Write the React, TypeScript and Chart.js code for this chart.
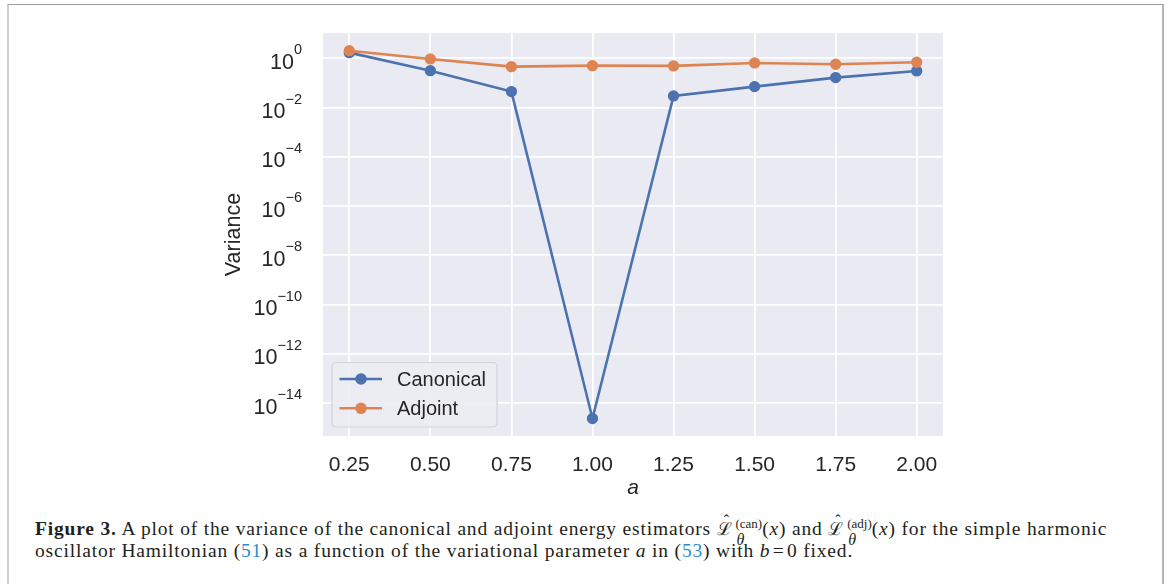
import React, { useEffect, useRef } from 'react';
import { Chart, registerables } from 'chart.js';

Chart.register(...registerables);

// ---- data ----
const aValues = [0.25, 0.5, 0.75, 1.0, 1.25, 1.5, 1.75, 2.0];
const canonicalVariance = [1.69, 0.314, 0.0443, 2.4e-15, 0.0296, 0.0706, 0.164, 0.306];
const adjointVariance = [2.03, 0.94, 0.457, 0.5, 0.49, 0.645, 0.571, 0.689];
const seriesLabels = ['Canonical', 'Adjoint'];
const seriesColors = ['#4c72b0', '#dd8452'];
const xTickValues = [0.25, 0.5, 0.75, 1.0, 1.25, 1.5, 1.75, 2.0];
const yTickExponents = [0, -2, -4, -6, -8, -10, -12, -14];
const xAxisLabel = 'a';
const yAxisLabel = 'Variance';

const TEXT = '#262626';
const SANS = '"Liberation Sans", Arial, sans-serif';

const bgPlugin = {
  id: 'axesBg',
  beforeDraw(chart: any) {
    const { ctx, chartArea } = chart;
    ctx.save();
    ctx.fillStyle = '#eaeaf2';
    ctx.fillRect(chartArea.left, chartArea.top, chartArea.right - chartArea.left, chartArea.bottom - chartArea.top);
    ctx.restore();
  },
};

const yLabelPlugin = {
  id: 'yPowerLabels',
  afterDraw(chart: any) {
    const { ctx, chartArea } = chart;
    const ys = chart.scales.y;
    ctx.save();
    ctx.fillStyle = TEXT;
    const right = chartArea.left - 21;
    for (const e of yTickExponents) {
      const py = ys.getPixelForValue(Math.pow(10, e));
      const expText = e === 0 ? '0' : '\u2212' + Math.abs(e);
      ctx.font = '14.5px ' + SANS;
      const we = ctx.measureText(expText).width;
      ctx.textAlign = 'left';
      ctx.textBaseline = 'alphabetic';
      ctx.fillText(expText, right - we, py - 4);
      ctx.font = '21.5px ' + SANS;
      ctx.textAlign = 'right';
      ctx.fillText('10', right - we, py + 10.5);
    }
    ctx.restore();
  },
};

const legendPlugin = {
  id: 'mplLegend',
  afterDraw(chart: any) {
    const { ctx, chartArea } = chart;
    const x0 = chartArea.left + 9;
    const w = 165;
    const h = 64.5;
    const y0 = chartArea.bottom - 9 - h;
    const r = 4;
    ctx.save();
    ctx.beginPath();
    ctx.moveTo(x0 + r, y0);
    ctx.lineTo(x0 + w - r, y0);
    ctx.arcTo(x0 + w, y0, x0 + w, y0 + r, r);
    ctx.lineTo(x0 + w, y0 + h - r);
    ctx.arcTo(x0 + w, y0 + h, x0 + w - r, y0 + h, r);
    ctx.lineTo(x0 + r, y0 + h);
    ctx.arcTo(x0, y0 + h, x0, y0 + h - r, r);
    ctx.lineTo(x0, y0 + r);
    ctx.arcTo(x0, y0, x0 + r, y0, r);
    ctx.closePath();
    ctx.fillStyle = 'rgba(236,236,243,0.9)';
    ctx.fill();
    ctx.strokeStyle = '#d2d2d6';
    ctx.lineWidth = 1.2;
    ctx.stroke();
    chart.data.datasets.forEach((ds: any, i: number) => {
      const cy = y0 + 16.5 + i * 29.3;
      ctx.strokeStyle = ds.borderColor;
      ctx.lineWidth = 2.6;
      ctx.beginPath();
      ctx.moveTo(x0 + 7.5, cy);
      ctx.lineTo(x0 + 50, cy);
      ctx.stroke();
      ctx.fillStyle = ds.borderColor;
      ctx.beginPath();
      ctx.arc(x0 + 29, cy, 5.8, 0, Math.PI * 2);
      ctx.fill();
      ctx.fillStyle = TEXT;
      ctx.font = '20px ' + SANS;
      ctx.textAlign = 'left';
      ctx.textBaseline = 'middle';
      ctx.fillText(ds.label, x0 + 65, cy + 1);
    });
    ctx.restore();
  },
};

function Lhat({ sup }: { sup: string }) {
  return (
    <>
      <span style={{ position: 'relative', display: 'inline-block' }}>
        <span style={{ fontFamily: '"DejaVu Serif", serif', fontSize: 18 }}>{'\u2112'}</span>
        <span style={{ position: 'absolute', left: 7, top: -8, fontSize: 16 }}>{'\u02C6'}</span>
      </span>
      <span style={{ position: 'relative', fontSize: 13, verticalAlign: 7, marginLeft: 3, letterSpacing: 0 }}>
        {sup}
        <span style={{ position: 'absolute', left: 1, top: 13, fontStyle: 'italic', fontSize: 16 }}>{'\u03B8'}</span>
      </span>
    </>
  );
}

export default function App() {
  const canvasRef = useRef<HTMLCanvasElement | null>(null);

  useEffect(() => {
    const canvas = canvasRef.current;
    if (!canvas) return;
    const series = [canonicalVariance, adjointVariance];
    const chart = new Chart(canvas, {
      type: 'line',
      data: {
        datasets: series.map((vals, i) => ({
          label: seriesLabels[i],
          data: aValues.map((a, j) => ({ x: a, y: vals[j] })),
          borderColor: seriesColors[i],
          backgroundColor: seriesColors[i],
          pointBackgroundColor: seriesColors[i],
          pointBorderColor: seriesColors[i],
          borderWidth: 2.6,
          pointRadius: 5,
          pointBorderWidth: 1.3,
          tension: 0,
          fill: false,
          clip: false as any,
          order: i === 0 ? 1 : 0,
        })),
      },
      options: {
        responsive: false,
        animation: false,
        devicePixelRatio: 1,
        events: [],
        layout: { padding: { left: 221, right: 224, top: 33, bottom: 4 } },
        plugins: {
          legend: { display: false },
          tooltip: { enabled: false },
          title: { display: false },
        },
        scales: {
          x: {
            type: 'linear',
            min: 0.1689,
            max: 2.0811,
            afterBuildTicks: (s: any) => {
              s.ticks = xTickValues.map((v) => ({ value: v }));
            },
            afterFit: (s: any) => {
              s.height = 65;
            },
            grid: { color: '#ffffff', lineWidth: 1.8, drawTicks: false },
            border: { display: false },
            ticks: {
              color: TEXT,
              font: { family: SANS, size: 21 },
              padding: 17,
              maxRotation: 0,
              autoSkip: false,
              callback: (v: any) => Number(v).toFixed(2),
            },
            title: {
              display: true,
              text: xAxisLabel,
              color: TEXT,
              font: { family: SANS, size: 21, style: 'italic' },
              padding: { top: 0, bottom: 0 },
            },
          },
          y: {
            type: 'logarithmic',
            min: Math.pow(10, -15.33),
            max: Math.pow(10, 1.025),
            afterBuildTicks: (s: any) => {
              s.ticks = yTickExponents.map((e) => ({ value: Math.pow(10, e) }));
            },
            afterFit: (s: any) => {
              s.width = 102;
            },
            grid: { color: '#ffffff', lineWidth: 1.8, drawTicks: false },
            border: { display: false },
            ticks: { display: false },
            title: {
              display: true,
              text: yAxisLabel,
              color: TEXT,
              font: { family: SANS, size: 21.5 },
              padding: { top: 0, bottom: 0 },
            },
          },
        },
      } as any,
      plugins: [bgPlugin, yLabelPlugin, legendPlugin],
    });
    return () => chart.destroy();
  }, []);

  const blue = { color: '#2e8bc9' };

  return (
    <div style={{ position: 'absolute', left: 0, top: 0, width: 1167, height: 584, background: '#fff', overflow: 'hidden' }}>
      <div
        style={{
          position: 'absolute',
          left: 7,
          top: 4,
          width: 1153,
          height: 640,
          borderTop: '1px solid #9c9c9c',
          borderLeft: '2px solid #cfcfcf',
          borderRight: '2px solid #b5b5b5',
        }}
      />
      <canvas ref={canvasRef} width={1167} height={505} style={{ position: 'absolute', left: 0, top: 0, display: 'block' }} />
      <div
        style={{
          position: 'absolute',
          left: 35,
          top: 513,
          fontFamily: '"Liberation Serif", "Times New Roman", serif',
          fontSize: 19.5,
          letterSpacing: '0.82px',
          lineHeight: '22px',
          color: '#231f20',
          whiteSpace: 'nowrap',
        }}
      >
        <b>Figure 3.</b> A plot of the variance of the canonical and adjoint energy estimators <Lhat sup="(can)" />(<i>x</i>) and{' '}
        <Lhat sup="(adj)" />(<i>x</i>) for the simple harmonic
        <br />
        oscillator Hamiltonian (<span style={blue}>51</span>) as a function of the variational parameter <i>a</i> in (
        <span style={blue}>53</span>) with <i>b</i>&#8202;=&#8202;0 fixed.
      </div>
    </div>
  );
}
